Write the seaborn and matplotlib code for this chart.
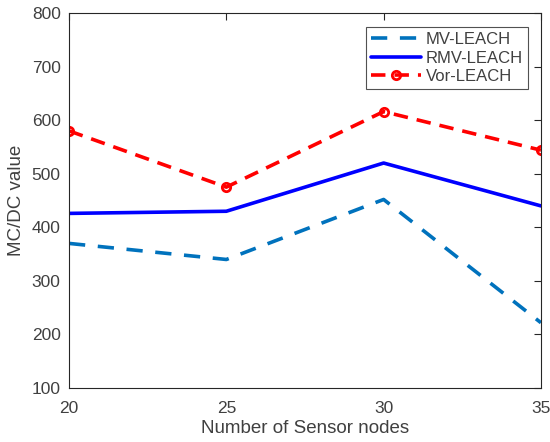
import matplotlib
matplotlib.use("Agg")
import matplotlib.pyplot as plt
import seaborn as sns
import pandas as pd

nodes = [20, 25, 30, 35]
mv_leach = [370, 340, 452, 222]
rmv_leach = [426, 430, 520, 440]
vor_leach = [580, 475, 616, 544]

sns.set_style("white")
plt.rcParams['font.family'] = ['Liberation Sans', 'DejaVu Sans']

fig = plt.figure(figsize=(5.5, 4.42), dpi=100)
ax = fig.add_axes([0.1255, 0.122, 0.858, 0.8486])

TXT = "#404040"
df = pd.DataFrame({"x": nodes, "MV": mv_leach, "RMV": rmv_leach, "Vor": vor_leach})
sns.lineplot(data=df, x="x", y="MV", ax=ax, color="#0072BD", lw=2.6, label="MV-LEACH")
ax.lines[-1].set_linestyle((0, (4.5, 3.5)))
sns.lineplot(data=df, x="x", y="RMV", ax=ax, color="#0000FF", lw=2.6, label="RMV-LEACH")
sns.lineplot(data=df, x="x", y="Vor", ax=ax, color="#FF0000", lw=2.6, marker="o",
             markersize=6, markerfacecolor="none", markeredgecolor="#FF0000",
             markeredgewidth=2, label="Vor-LEACH")
ax.lines[-1].set_linestyle((0, (4, 2.5)))

ax.set_xlim(20, 35)
ax.set_ylim(100, 800)
ax.set_xticks([20, 25, 30, 35])
ax.set_yticks(range(100, 801, 100))
ax.tick_params(direction="in", length=5, width=0.8, labelsize=12.5, colors="#262626",
               top=True, right=True, labelcolor=TXT)
ax.tick_params(axis="x", pad=9)
ax.tick_params(axis="y", pad=6)
for s in ax.spines.values():
    s.set_color("#262626")
    s.set_linewidth(0.8)
ax.set_xlabel("Number of Sensor nodes", fontsize=13.5, color=TXT, labelpad=3)
ax.set_ylabel("MC/DC value", fontsize=13.5, color=TXT, labelpad=5)

leg = ax.legend(loc="upper right", bbox_to_anchor=(0.972, 0.962), fontsize=12,
                frameon=True, fancybox=False, edgecolor="#262626", handlelength=3.0,
                borderpad=0.3, labelspacing=0.2, handletextpad=0.3, borderaxespad=0)
leg.get_frame().set_linewidth(0.8)
for t in leg.get_texts():
    t.set_color(TXT)

fig.savefig("out.png", dpi=100)
